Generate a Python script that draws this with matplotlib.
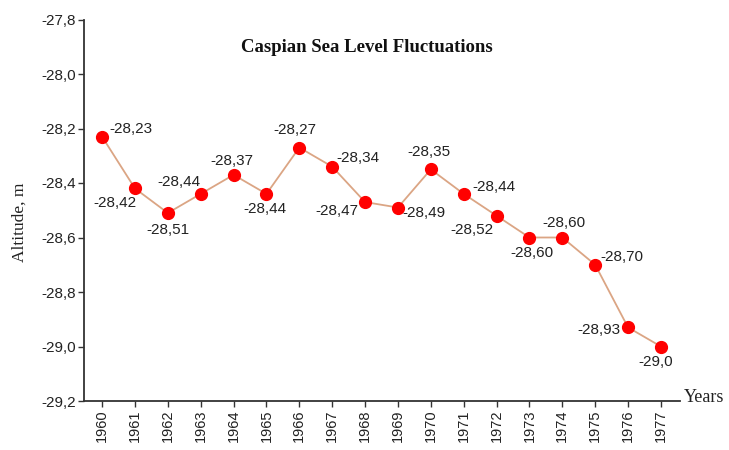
import matplotlib.pyplot as plt
from matplotlib.ticker import FuncFormatter

years = list(range(1960, 1978))
level = [-28.23, -28.42, -28.51, -28.44, -28.37, -28.44, -28.27, -28.34, -28.47,
         -28.49, -28.35, -28.44, -28.52, -28.60, -28.60, -28.70, -28.93, -29.0]
labels = ['-28,23', '-28,42', '-28,51', '-28,44', '-28,37', '-28,44', '-28,27',
          '-28,34', '-28,47', '-28,49', '-28,35', '-28,44', '-28,52', '-28,60',
          '-28,60', '-28,70', '-28,93', '-29,0']
yticks = [-29.2, -29.0, -28.8, -28.6, -28.4, -28.2, -28.0, -27.8]

# label offsets (pixels) from each point
offsets = [(29, 8), (-20, -15), (0, -17), (-22, 12), (-2, 14), (-2, -15),
           (-4, 18), (26, 9), (-28, -9), (26, -5), (-2, 17), (30, 7),
           (-25, -14), (2, -15), (2, 15), (27, 8), (-29, -3), (-5, -15)]

sans = ['Liberation Sans', 'DejaVu Sans']
serif = ['Liberation Serif', 'DejaVu Serif']

fig = plt.figure(figsize=(7.29, 4.5), dpi=100)
ax = fig.add_axes([84 / 729, 1 - 401 / 450, (680 - 84) / 729, (401 - 19.5) / 450])

ax.plot(years, level, color='#dba584', lw=1.3, zorder=2)
ax.plot(years, level, 'o', color='#ff0000', ms=8.5, zorder=3)

for x, y, t, off in zip(years, level, labels, offsets):
    ax.annotate(t, (x, y), xytext=off, textcoords='offset pixels',
                ha='center', va='center', fontsize=11, family=sans, color='#222222')

ax.set_xlim(1959.45, 1977.58)
ax.set_ylim(-29.2, -27.8)
ax.set_xticks(years)
ax.set_xticklabels([str(y) for y in years], rotation=90, family=sans, fontsize=10.5)
ax.set_yticks(yticks)
ax.yaxis.set_major_formatter(FuncFormatter(lambda v, p: ('%.1f' % v).replace('.', ',')))
for lab in ax.get_yticklabels():
    lab.set_family(sans)
    lab.set_fontsize(11)

ax.spines['top'].set_visible(False)
ax.spines['right'].set_visible(False)
for s in ['left', 'bottom']:
    ax.spines[s].set_color('#333333')
    ax.spines[s].set_linewidth(1.3)
ax.tick_params(length=4, width=1, color='#333333', labelcolor='#222222', pad=2)

fig.text(20 / 729, 1 - 222 / 450, 'Altitude, m', rotation=90, ha='center', va='center',
         family=serif, fontsize=12.5, color='#222222')
fig.text(684 / 729, 1 - 398 / 450, 'Years', ha='left', va='center',
         family=serif, fontsize=13, color='#222222')
fig.text(367 / 729, 1 - 47 / 450, 'Caspian Sea Level Fluctuations', ha='center', va='center',
         family=serif, fontsize=13.5, fontweight='bold', color='#111111')

fig.savefig('out.png', dpi=100)
